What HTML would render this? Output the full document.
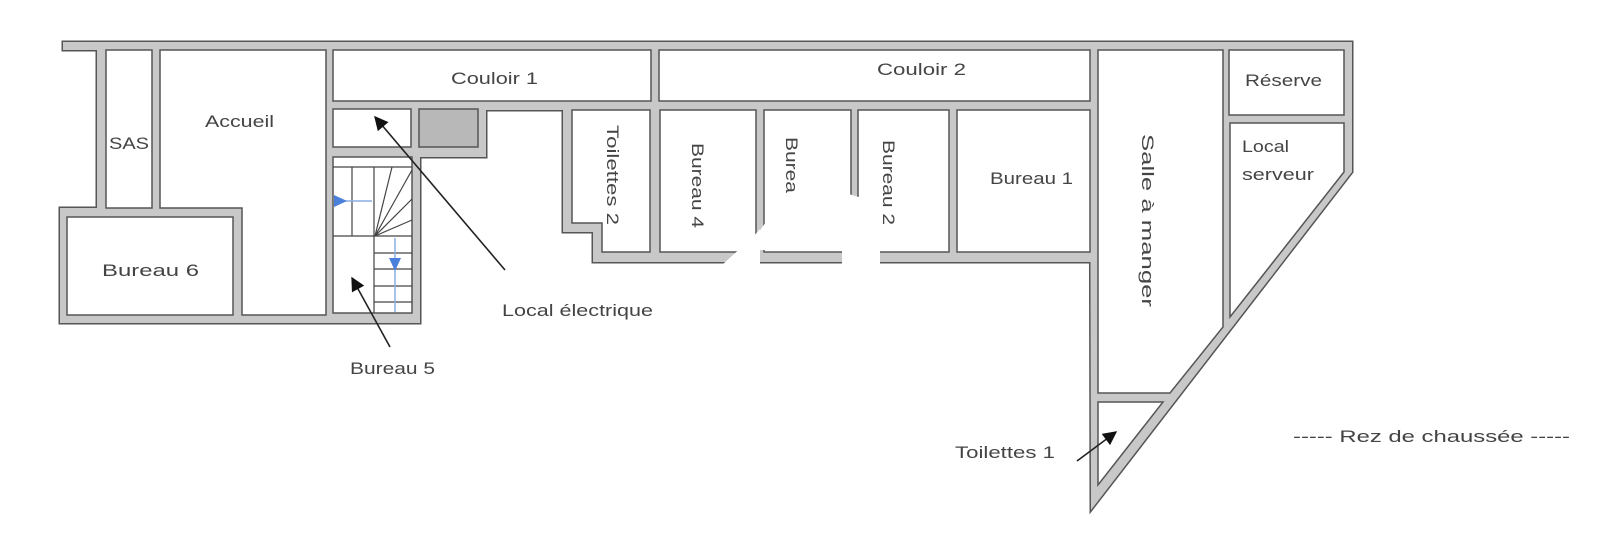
<!DOCTYPE html>
<html><head><meta charset="utf-8"><style>
html,body{margin:0;padding:0;background:#fff;}
svg{display:block;}
text{font-family:"Liberation Sans",sans-serif;font-size:17px;fill:#444;}
</style></head><body>
<svg width="1600" height="539" viewBox="0 0 1600 539" xmlns="http://www.w3.org/2000/svg">
<defs>
<marker id="ah2" viewBox="0 0 10 10" refX="9" refY="5" markerWidth="16" markerHeight="14" orient="auto" markerUnits="userSpaceOnUse">
<path d="M0,0 L10,5 L0,10 z" fill="#111"/></marker>
</defs>
<g fill="#c8c8c8" stroke="#555" stroke-width="3">
<rect x="63" y="42" width="1289" height="8"/>
<rect x="97" y="42" width="236" height="166"/>
<rect x="60" y="208" width="360" height="115"/>
<rect x="325" y="42" width="161" height="115"/>
<rect x="325" y="150" width="95" height="173"/>
<rect x="325" y="42" width="773" height="68"/>
<rect x="563" y="101" width="535" height="131"/>
<rect x="593" y="101" width="505" height="161"/>
<polygon points="1090,42 1352,42 1352,172 1091,510"/>
</g>
<g fill="#c8c8c8">
<rect x="63" y="42" width="1289" height="8"/>
<rect x="97" y="42" width="236" height="166"/>
<rect x="60" y="208" width="360" height="115"/>
<rect x="325" y="42" width="161" height="115"/>
<rect x="325" y="150" width="95" height="173"/>
<rect x="325" y="42" width="773" height="68"/>
<rect x="563" y="101" width="535" height="131"/>
<rect x="593" y="101" width="505" height="161"/>
<polygon points="1090,42 1352,42 1352,172 1091,510"/>
</g>
<g fill="#fff" stroke="#555" stroke-width="1.5">
<rect x="106" y="50" width="46" height="158"/>
<polygon points="160,50 326,50 326,315 242,315 242,208 160,208"/>
<rect x="67" y="217" width="166" height="98"/>
<rect x="333" y="50" width="318" height="51"/>
<rect x="333" y="109" width="78" height="38"/>
<rect x="333" y="157" width="79" height="156"/>
<rect x="659" y="50" width="431" height="51"/>
<polygon points="572,110 650,110 650,252 602,252 602,223 572,223"/>
<rect x="660" y="110" width="96" height="142"/>
<rect x="764" y="110" width="87" height="142"/>
<rect x="858" y="110" width="91" height="142"/>
<rect x="957" y="110" width="133" height="142"/>
<polygon points="1098,50 1223,50 1223,327 1170,393 1098,393"/>
<polygon points="1098,402 1163,402 1098,485"/>
<rect x="1229" y="50" width="115" height="65"/>
<polygon points="1230,123 1344,123 1344,172 1230,317"/>
</g>
<rect x="419" y="109" width="59" height="38" fill="#b8b8b8" stroke="#555" stroke-width="1.5"/>
<g stroke="#444" stroke-width="1.2" fill="none">
<line x1="333" y1="167" x2="412" y2="167"/>
<line x1="333" y1="236" x2="412" y2="236"/>
<line x1="352" y1="167" x2="352" y2="236"/>
<line x1="374" y1="167" x2="374" y2="313"/>
<line x1="375" y1="236" x2="392" y2="167"/>
<line x1="375" y1="236" x2="412" y2="170"/>
<line x1="375" y1="236" x2="412" y2="199"/>
<line x1="375" y1="236" x2="412" y2="220"/>
<line x1="374" y1="253" x2="412" y2="253"/>
<line x1="374" y1="269" x2="412" y2="269"/>
<line x1="374" y1="286" x2="412" y2="286"/>
<line x1="374" y1="302" x2="412" y2="302"/>
</g>
<g stroke="#8aaee0" stroke-width="1.5"><line x1="340" y1="201" x2="372" y2="201"/><line x1="395" y1="238" x2="395" y2="312"/></g>
<polygon points="334,195 347,201 334,207" fill="#4a7fdc"/>
<polygon points="389,258 401,258 395,271" fill="#4a7fdc"/>
<text transform="translate(786,137) rotate(90)" textLength="85" lengthAdjust="spacingAndGlyphs">Bureau 3</text>
<!-- occlusion blob -->
<path d="M723,264 L753,237 L760,229 L760,264 Z" fill="#fff"/>
<path d="M753,240 L787,193 Q810,185 835,190 L862,198 L862,250 L764,250 L756,250 Z" fill="#fff"/>
<rect x="842" y="198" width="38" height="67" fill="#fff"/>
<g stroke="#222" stroke-width="1.6">
<line x1="505" y1="270" x2="375" y2="117" marker-end="url(#ah2)"/>
<line x1="390" y1="347" x2="352" y2="278" marker-end="url(#ah2)"/>
<line x1="1077" y1="461" x2="1116" y2="432" marker-end="url(#ah2)"/>
</g>
<text x="451" y="84" textLength="87" lengthAdjust="spacingAndGlyphs">Couloir 1</text>
<text x="877" y="75" textLength="89" lengthAdjust="spacingAndGlyphs">Couloir 2</text>
<text x="1245" y="86" textLength="77" lengthAdjust="spacingAndGlyphs">Réserve</text>
<text x="1242" y="152" textLength="47" lengthAdjust="spacingAndGlyphs">Local</text>
<text x="1242" y="180" textLength="72" lengthAdjust="spacingAndGlyphs">serveur</text>
<text x="109" y="149" textLength="40" lengthAdjust="spacingAndGlyphs">SAS</text>
<text x="205" y="127" textLength="69" lengthAdjust="spacingAndGlyphs">Accueil</text>
<text x="102" y="276" textLength="97" lengthAdjust="spacingAndGlyphs">Bureau 6</text>
<text x="502" y="316" textLength="151" lengthAdjust="spacingAndGlyphs">Local électrique</text>
<text x="350" y="374" textLength="85" lengthAdjust="spacingAndGlyphs">Bureau 5</text>
<text x="990" y="184" textLength="83" lengthAdjust="spacingAndGlyphs">Bureau 1</text>
<text x="955" y="458" textLength="100" lengthAdjust="spacingAndGlyphs">Toilettes 1</text>
<text x="1293" y="442" textLength="277" lengthAdjust="spacingAndGlyphs">----- Rez de chaussée -----</text>
<text transform="translate(607,125) rotate(90)" textLength="100" lengthAdjust="spacingAndGlyphs">Toilettes 2</text>
<text transform="translate(692,143) rotate(90)" textLength="85" lengthAdjust="spacingAndGlyphs">Bureau 4</text>
<text transform="translate(883,140) rotate(90)" textLength="85" lengthAdjust="spacingAndGlyphs">Bureau 2</text>
<text transform="translate(1142,134) rotate(90)" textLength="173" lengthAdjust="spacingAndGlyphs">Salle à manger</text>
</svg>
</body></html>
